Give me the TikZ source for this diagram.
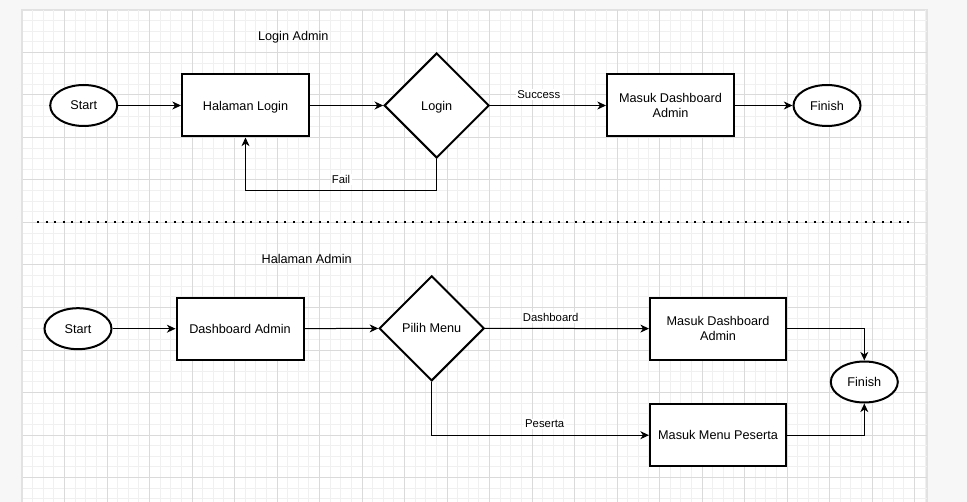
\documentclass[tikz,border=0pt]{standalone}
\usepackage{fontspec}
\setmainfont{Liberation Sans}
\usetikzlibrary{arrows.meta,positioning,shapes.geometric}
\definecolor{pagebg}{HTML}{F7F7F7}
\definecolor{pageedge}{HTML}{E2E2E2}
\definecolor{gridmajor}{HTML}{DADADA}
\definecolor{gridminor}{HTML}{F0F0F0}
\tikzset{
termnode/.style={
  ellipse,
  draw=black,
  line width=1.5pt,
  fill=white,
  minimum width=50.25pt,
  minimum height=30.75pt,
  inner sep=0pt,
  text depth=0pt,
  font=\fontsize{9.5}{11}\selectfont
},
procnode/.style={
  rectangle,
  draw=black,
  line width=1.5pt,
  fill=white,
  align=center,
  minimum width=95.25pt,
  minimum height=46.5pt,
  inner sep=0pt,
  text depth=0pt,
  font=\fontsize{9.5}{11}\selectfont
},
decnode/.style={
  diamond,
  draw=black,
  line width=1.5pt,
  fill=white,
  minimum width=78.75pt,
  minimum height=78.75pt,
  inner sep=0pt,
  text depth=0pt,
  font=\fontsize{9.5}{11}\selectfont
},
flowarrow/.style={
  -{Stealth[length=6.5pt,width=6pt,inset=2pt]},
  line width=0.75pt,
  draw=black
},
edgelabel/.style={
  fill=white,
  inner sep=1pt,
  font=\fontsize{8.5}{10}\selectfont
},
titlelabel/.style={
  font=\fontsize{9.5}{11}\selectfont
}
}

\begin{document}
\begin{tikzpicture}[x=0.75pt,y=-0.75pt]

% page and grid
\useasboundingbox (0,0) rectangle (967,502);
\fill[pagebg] (0,0) rectangle (967,502);
\filldraw[fill=white,draw=pageedge,line width=1pt] (22,10) rectangle (927,510);
\foreach \i in {1,...,85} \draw[gridminor,line width=0.75pt] ({22+\i*10.625},10.5) -- ({22+\i*10.625},502);
\foreach \j in {1,...,46} \draw[gridminor,line width=0.75pt] (22.5,{10+\j*10.625}) -- (926.5,{10+\j*10.625});
\foreach \i in {1,...,21} \draw[gridmajor,line width=0.75pt] ({22+\i*42.5},10.5) -- ({22+\i*42.5},502);
\foreach \j in {1,...,11} \draw[gridmajor,line width=0.75pt] (22.5,{10+\j*42.5}) -- (926.5,{10+\j*42.5});

% login admin
\node[titlelabel] (titleLogin) at (293.3,37.3) {Login Admin};
\node[termnode] (startA) at (83.7,105.5) {Start};
\node[procnode] (halLogin) at (245.5,105.5) {Halaman Login};
\node[decnode] (decLogin) at (436.7,105.5) {Login};
\node[procnode] (dashA) at (670.5,105.5) {Masuk Dashboard\\Admin};
\node[termnode] (finishA) at (827,105.5) {Finish};

\draw[flowarrow] (startA) -- (halLogin);
\draw[flowarrow] (halLogin) -- (decLogin);
\draw[flowarrow] (decLogin) -- node[edgelabel,pos=0.42,above=4pt] {Success} (dashA);
\draw[flowarrow] (dashA) -- (finishA);
\draw[flowarrow] (decLogin.south) -- ++(0,32) -| node[edgelabel,pos=0.25,above=4pt] {Fail} (halLogin.south);

% separator
\coordinate (sepL) at (37,222);
\coordinate (sepR) at (915,222);
\draw[line width=1.5pt,dash pattern=on 1.5pt off 4.9pt] (sepL) -- (sepR);

% halaman admin
\node[titlelabel] (titleAdmin) at (306.7,259.3) {Halaman Admin};
\node[termnode] (startB) at (78,328.7) {Start};
\node[procnode] (dashAdmin) at (240,328.7) {Dashboard Admin};
\node[decnode] (decMenu) at (431.7,328.3) {Pilih Menu};
\node[procnode,minimum width=102pt] (dashB) at (718,328.7) {Masuk Dashboard\\Admin};
\node[procnode,minimum width=102pt] (peserta) at (718,435.2) {Masuk Menu Peserta};
\node[termnode] (finishB) at (864.3,382) {Finish};

\draw[flowarrow] (startB) -- (dashAdmin);
\draw[flowarrow] (dashAdmin) -- (decMenu);
\draw[flowarrow] (decMenu) -- node[edgelabel,pos=0.4,above=4pt] {Dashboard} (dashB);
\draw[flowarrow] (decMenu.south) |- node[edgelabel,pos=0.76,above=4pt] {Peserta} (peserta.west);
\draw[flowarrow] (dashB.east) -| (finishB.north);
\draw[flowarrow] (peserta.east) -| (finishB.south);

\end{tikzpicture}
\end{document}
